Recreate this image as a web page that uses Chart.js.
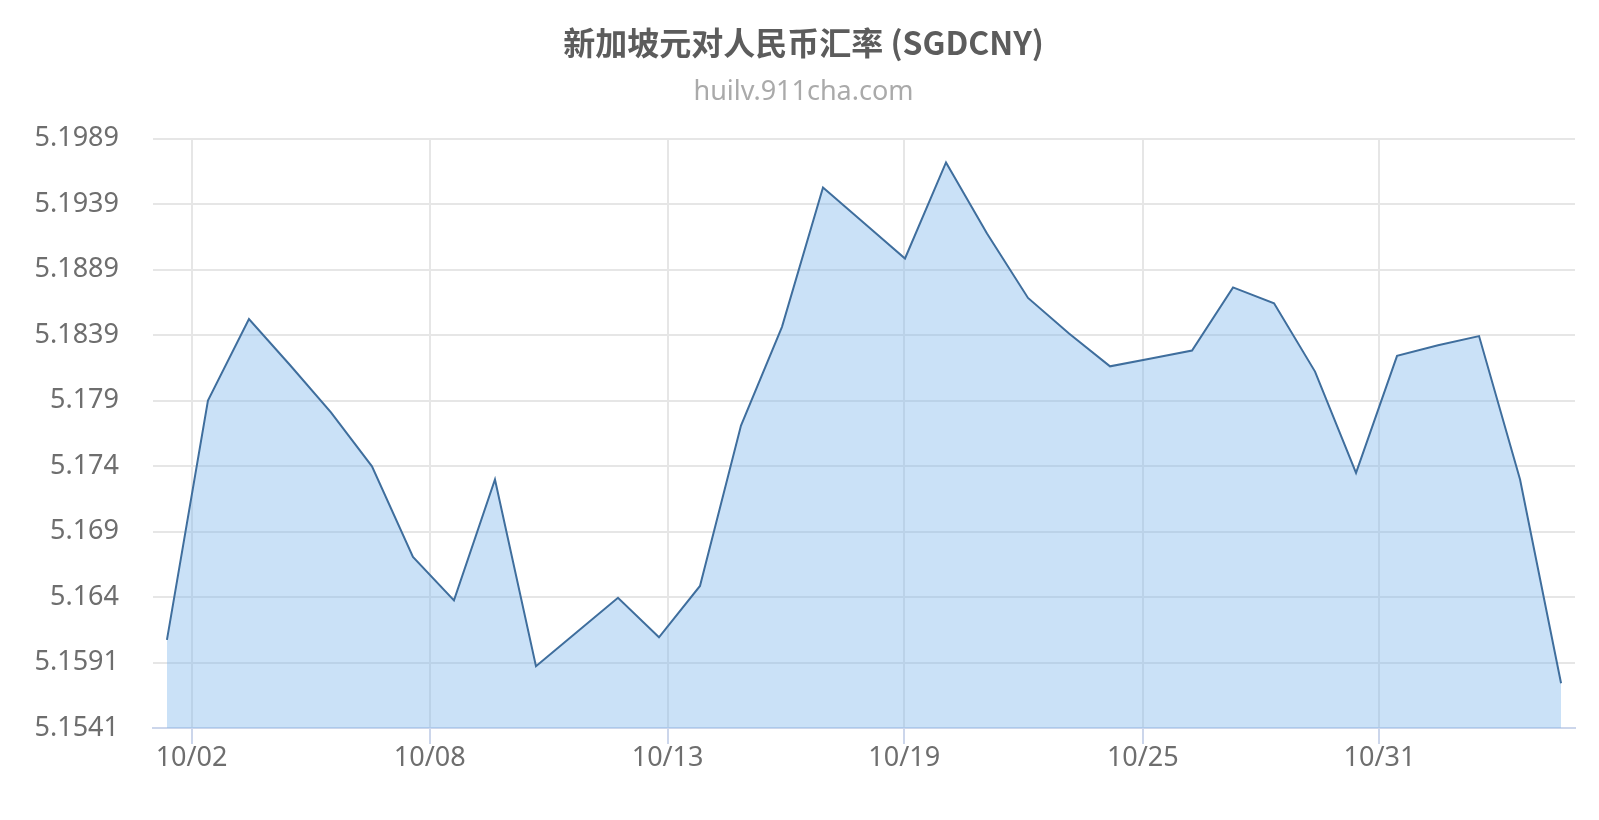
<!DOCTYPE html>
<html>
<head>
<meta charset="utf-8">
<title>SGDCNY</title>
<script src="https://cdn.jsdelivr.net/npm/chart.js@4"></script>
<style>
  html, body { margin: 0; padding: 0; background: #fff; }
  #wrap { width: 1599px; height: 820px; }
</style>
</head>
<body>
<div id="wrap"><canvas id="rateChart"></canvas></div>
<script>
// daily SGD -> CNY rates
var rates = [
    5.1608, 5.1790, 5.1852, 5.1817, 5.1781, 5.1740, 5.1671, 5.1638, 5.1730, 5.1588,
    5.1614, 5.1640, 5.1610, 5.1649, 5.1771, 5.1846, 5.1952, 5.1925, 5.1898, 5.1971,
    5.1917, 5.1868, 5.1841, 5.1816, 5.1822, 5.1828, 5.1876, 5.1864, 5.1812, 5.1735,
    5.1824, 5.1832, 5.1839, 5.1730, 5.1575
];
// x ticks sit between points in the original, so keep their axis values too
var xTickLabels = ['10/02', '10/08', '10/13', '10/19', '10/25', '10/31'];
var xTickValues = [0.6, 6.41, 12.21, 17.98, 23.80, 29.57];
var yTickLabels = ['5.1541', '5.1591', '5.164', '5.169', '5.174', '5.179', '5.1839', '5.1889', '5.1939', '5.1989'];
var yMin = 5.1541, yMax = 5.1989;

var latinFont = '"Noto Sans", "Open Sans", sans-serif';

function drawRateChart() {
    var points = rates.map(function (v, i) { return { x: i, y: v }; });
    var ctx = document.getElementById('rateChart').getContext('2d');
    new Chart(ctx, {
        type: 'line',
        data: {
            datasets: [{
                label: 'SGDCNY',
                data: points,
                borderColor: '#3f6e9d',
                borderWidth: 2,
                backgroundColor: 'rgba(128,184,236,0.42)',
                fill: 'start',
                pointRadius: 0,
                tension: 0
            }]
        },
        options: {
            responsive: true,
            maintainAspectRatio: false,
            animation: false,
            layout: { padding: { left: 8, right: 0, top: 0, bottom: 0 } },
            plugins: {
                legend: { display: false },
                tooltip: { enabled: false },
                title: {
                    display: true,
                    text: '新加坡元对人民币汇率 (SGDCNY)',
                    color: '#5c5c5c',
                    font: { family: '"Noto Sans CJK SC", "Noto Sans", sans-serif', size: 32, weight: 'bold' },
                    padding: { top: 24, bottom: 0 }
                },
                subtitle: {
                    display: true,
                    text: 'huilv.911cha.com',
                    color: '#aaaaaa',
                    font: { family: latinFont, size: 27 },
                    padding: { top: 14, bottom: 30 }
                }
            },
            scales: {
                x: {
                    type: 'linear',
                    min: -0.34,
                    max: 34.34,
                    afterBuildTicks: function (scale) {
                        scale.ticks = xTickValues.map(function (v) { return { value: v }; });
                    },
                    afterFit: function (scale) { scale.height = 92; },
                    ticks: {
                        autoSkip: false,
                        maxRotation: 0,
                        padding: -2,
                        color: '#6e6e6e',
                        font: { family: latinFont, size: 27 },
                        callback: function (v, i) { return xTickLabels[i]; }
                    },
                    grid: {
                        color: '#e6e6e6',
                        lineWidth: 2,
                        drawTicks: true,
                        tickLength: 16,
                        tickColor: '#ccd6eb',
                        tickWidth: 2
                    },
                    border: { display: true, color: '#ccd6eb', width: 2 }
                },
                y: {
                    min: yMin,
                    max: yMax,
                    afterBuildTicks: function (scale) {
                        var step = (yMax - yMin) / (yTickLabels.length - 1);
                        scale.ticks = yTickLabels.map(function (s, i) { return { value: yMin + i * step }; });
                    },
                    afterFit: function (scale) { scale.width = 145; },
                    ticks: {
                        padding: 34,
                        color: '#6e6e6e',
                        font: { family: latinFont, size: 27 },
                        callback: function (v, i) { return yTickLabels[i]; }
                    },
                    grid: { color: '#e6e6e6', lineWidth: 2, drawTicks: false },
                    border: { display: false }
                },
                // empty right axis only keeps the plot off the right edge
                yRight: {
                    position: 'right',
                    display: true,
                    afterFit: function (scale) { scale.width = 24; },
                    ticks: { display: false },
                    grid: { display: false },
                    border: { display: false }
                }
            }
        }
    });
}
window.addEventListener('load', drawRateChart, false);
</script>
</body>
</html>
